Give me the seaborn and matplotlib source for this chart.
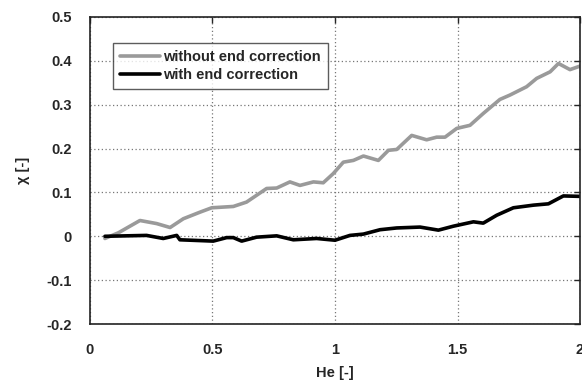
import matplotlib
matplotlib.use("Agg")
import matplotlib.pyplot as plt
import seaborn as sns
import pandas as pd
import numpy as np

# Data
he_without = [0.061, 0.116, 0.204, 0.272, 0.327, 0.381, 0.449, 0.497, 0.585, 0.639,
              0.721, 0.762, 0.816, 0.857, 0.912, 0.952, 0.993, 1.034, 1.075, 1.116,
              1.177, 1.218, 1.252, 1.313, 1.374, 1.415, 1.449, 1.497, 1.551, 1.605,
              1.673, 1.714, 1.782, 1.823, 1.878, 1.912, 1.959, 2.0]
chi_without = [-0.005, 0.008, 0.036, 0.029, 0.020, 0.040, 0.055, 0.065, 0.068, 0.078,
               0.109, 0.110, 0.124, 0.116, 0.124, 0.122, 0.143, 0.169, 0.173, 0.183,
               0.173, 0.196, 0.198, 0.230, 0.220, 0.226, 0.226, 0.246, 0.253, 0.280,
               0.312, 0.322, 0.341, 0.360, 0.375, 0.394, 0.380, 0.388]

he_with = [0.061, 0.231, 0.299, 0.354, 0.367, 0.503, 0.558, 0.585, 0.619, 0.680,
           0.762, 0.830, 0.925, 1.0, 1.061, 1.116, 1.184, 1.252, 1.347, 1.422,
           1.483, 1.565, 1.605, 1.660, 1.728, 1.810, 1.871, 1.932, 2.0]
chi_with = [0.0, 0.002, -0.005, 0.002, -0.008, -0.011, -0.003, -0.003, -0.011, -0.002,
            0.001, -0.008, -0.005, -0.009, 0.002, 0.005, 0.015, 0.019, 0.021, 0.014,
            0.023, 0.033, 0.030, 0.048, 0.065, 0.071, 0.074, 0.092, 0.091]

labels = ["without end correction", "with end correction"]
xticks = [0, 0.5, 1, 1.5, 2]
xticklabels = ["0", "0.5", "1", "1.5", "2"]
yticks = [-0.2, -0.1, 0, 0.1, 0.2, 0.3, 0.4, 0.5]
yticklabels = ["-0.2", "-0.1", "0", "0.1", "0.2", "0.3", "0.4", "0.5"]

sns.set_style("white")
plt.rcParams['font.family'] = ['Liberation Sans', 'DejaVu Sans']
plt.rcParams['font.weight'] = 'bold'

df = pd.concat([
    pd.DataFrame({"He": he_without, "chi": chi_without, "series": labels[0]}),
    pd.DataFrame({"He": he_with, "chi": chi_with, "series": labels[1]}),
])

fig = plt.figure(figsize=(5.82, 3.86), dpi=100)
ax = fig.add_axes([0.1546, 0.1606, 0.8420, 0.7954])

sns.lineplot(data=df, x="He", y="chi", hue="series", hue_order=labels,
             palette={labels[0]: "#9a9a9a", labels[1]: "#000000"},
             estimator=None, sort=False, linewidth=2.6, ax=ax)

ax.set_xlim(0, 2)
ax.set_ylim(-0.2, 0.5)
ax.set_xticks(xticks)
ax.set_xticklabels(xticklabels)
ax.set_yticks(yticks)
ax.set_yticklabels(yticklabels)
ax.grid(True, linestyle=(0, (1, 2)), color="#777777", linewidth=0.9)
ax.tick_params(direction="in", top=True, right=True, length=4, labelsize=10.5,
               width=1)
ax.tick_params(axis="y", pad=13)
ax.tick_params(axis="x", pad=14)
for lab in ax.get_xticklabels() + ax.get_yticklabels():
    lab.set_fontweight("bold")
for s in ax.spines.values():
    s.set_linewidth(1.2)
    s.set_color("#222222")

ax.set_xlabel("He [-]", fontsize=10.5, fontweight="bold", labelpad=6)
ax.set_ylabel("χ [-]", fontsize=10.5, fontweight="bold", labelpad=12)

leg = ax.legend(loc="upper left", bbox_to_anchor=(0.047, 0.915), frameon=True,
                fancybox=False, edgecolor="#333333", fontsize=10.5,
                handlelength=2.8, handletextpad=0.2, borderpad=0.45,
                labelspacing=0.3, borderaxespad=0)
leg.get_frame().set_linewidth(1.0)
for t in leg.get_texts():
    t.set_fontweight("bold")

fig.savefig("out.png", dpi=100)
